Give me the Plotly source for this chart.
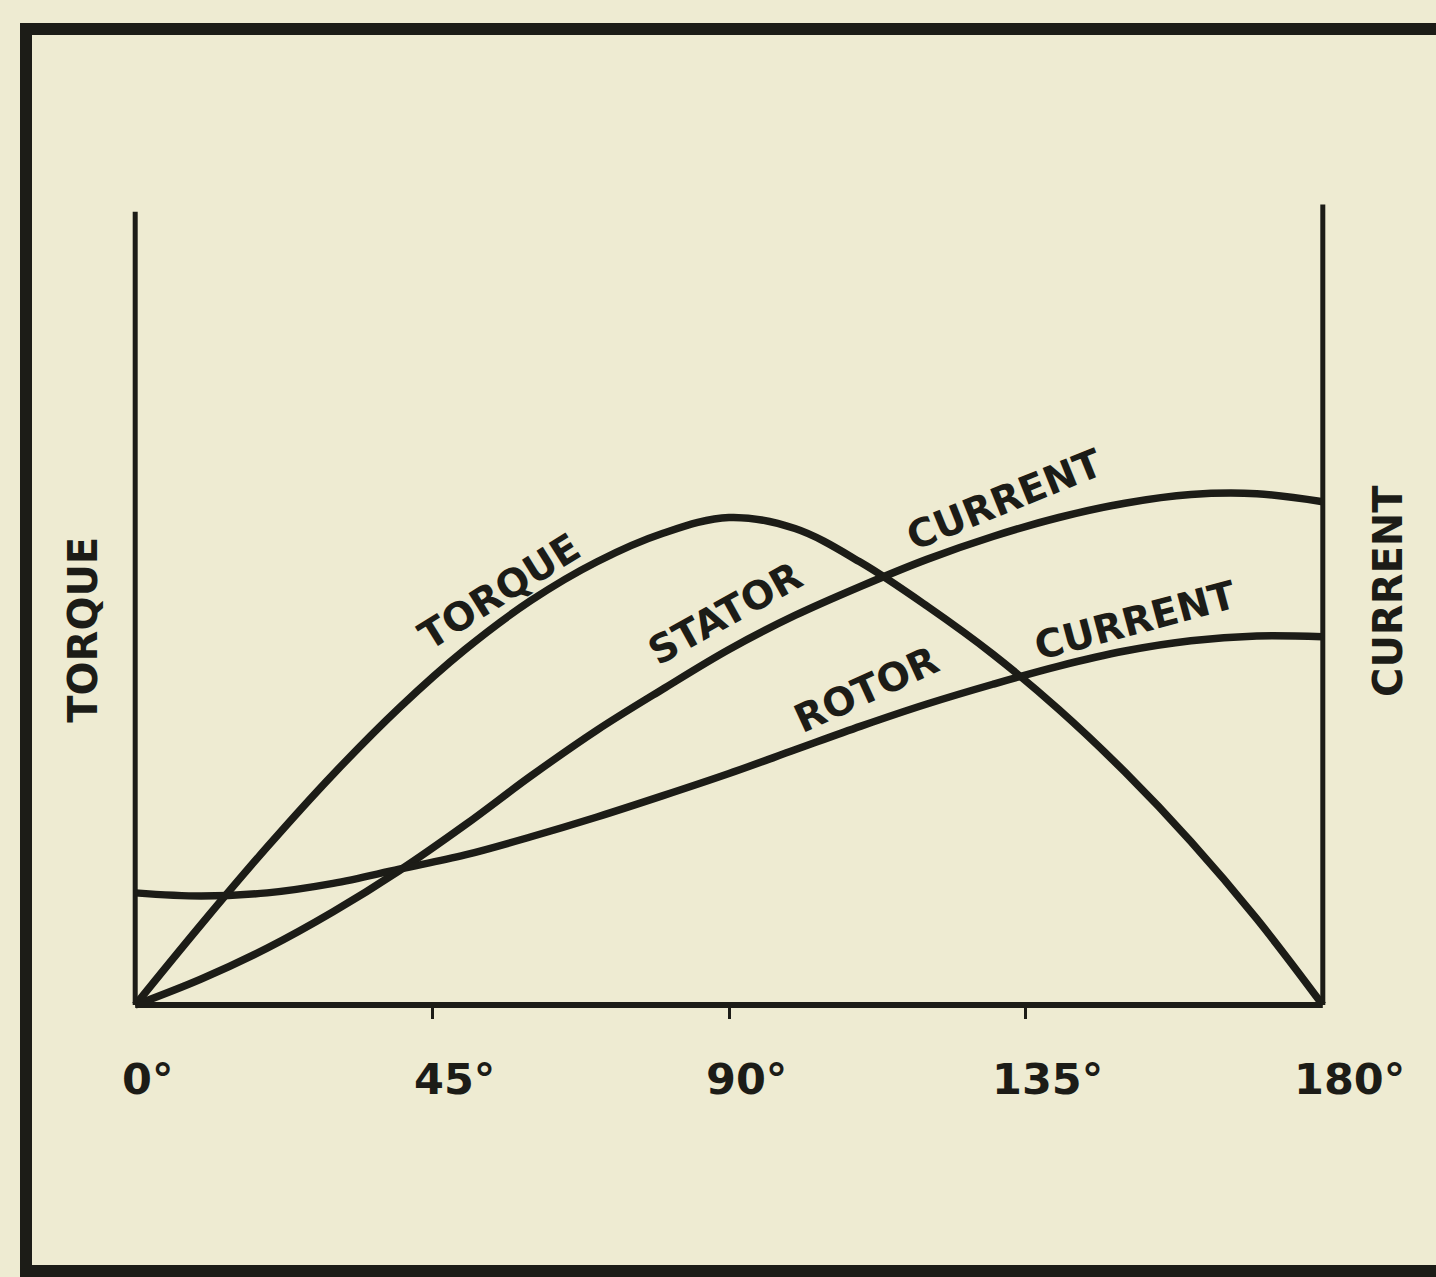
import plotly.graph_objects as go

# ---- data ----
angle = [0, 10, 20, 30, 40, 50, 60, 70, 80, 90, 100, 110, 120, 130, 140, 150, 160, 170, 180]
torque = [0, 10.2, 20.0, 29.2, 37.6, 45.0, 51.2, 56.1, 59.7, 61.7, 60.3, 56.0, 50.5, 44.4, 37.4, 29.5, 20.7, 10.9, 0]
stator = [0, 3.3, 7.2, 11.8, 17.0, 22.8, 29.0, 34.8, 40.0, 45.0, 49.3, 53.0, 56.4, 59.3, 61.7, 63.5, 64.6, 64.7, 63.7]
rotor = [14.2, 13.8, 14.2, 15.4, 17.2, 19.0, 21.3, 23.8, 26.5, 29.3, 32.3, 35.3, 38.1, 40.6, 42.9, 44.8, 46.1, 46.7, 46.6]

tick_vals = [0, 45, 90, 135, 180]
tick_text = ["0°", "45°", "90°", "135°", "180°"]
minor_ticks = [45, 90, 135]

INK = "#1c1c17"
BG = "#eeebd2"
FONT = "DejaVu Sans"

# layout geometry (pixels)
L, R, T, B = 122, 100, 199, 264
W = 1436 - L - R
H = 1277 - T - B


def px(xpix):
    return (xpix - L) / W


def py(ypix):
    return (1277 - B - ypix) / H


fig = go.Figure()

for ys in (torque, stator, rotor):
    fig.add_trace(go.Scatter(x=angle, y=ys, mode="lines",
                             line=dict(color=INK, width=7.5, shape="spline", smoothing=1.0),
                             hoverinfo="skip", showlegend=False))

# axis frame lines (baseline and two verticals)
fig.add_trace(go.Scatter(x=[0, 180], y=[0, 0], mode="lines",
                         line=dict(color=INK, width=6), hoverinfo="skip", showlegend=False))
fig.add_trace(go.Scatter(x=[0, 0], y=[0, 100.4], mode="lines",
                         line=dict(color=INK, width=5), hoverinfo="skip", showlegend=False))
fig.add_trace(go.Scatter(x=[180, 180], y=[0, 101.3], mode="lines",
                         line=dict(color=INK, width=5), hoverinfo="skip", showlegend=False))

annotations = []
# tick labels
tick_shift = [12, 22, 17, 22, 27]
for v, t, s in zip(tick_vals, tick_text, tick_shift):
    annotations.append(dict(x=v, xref="x", y=py(1079), yref="paper", text="<b>%s</b>" % t,
                            showarrow=False, xshift=s,
                            font=dict(family=FONT, size=43, color=INK),
                            xanchor="center", yanchor="middle"))

curve_labels = [
    ("TORQUE", 55.2, 52.3, -32, 39),
    ("STATOR", 89.4, 49.5, -29, 39),
    ("CURRENT", 131.8, 64.0, -22, 39),
    ("ROTOR", 110.8, 39.9, -24.5, 39),
    ("CURRENT", 151.6, 48.7, -15, 39),
]
for t, x, y, a, s in curve_labels:
    annotations.append(dict(x=x, y=y, text="<b>%s</b>" % t, showarrow=False, textangle=a,
                            xanchor="center", yanchor="middle",
                            font=dict(family=FONT, size=s, color=INK)))

annotations.append(dict(x=px(83), xref="paper", y=47.5, yref="y", text="<b>TORQUE</b>",
                        showarrow=False, textangle=-90, xanchor="center", yanchor="middle",
                        font=dict(family=FONT, size=40, color=INK)))
annotations.append(dict(x=px(1388), xref="paper", y=52.4, yref="y", text="<b>CURRENT</b>",
                        showarrow=False, textangle=-90, xanchor="center", yanchor="middle",
                        font=dict(family=FONT, size=40, color=INK)))

# outer frame (paper coordinates)
shapes = [dict(type="rect", xref="paper", yref="paper",
               x0=px(26), x1=px(1448), y0=py(1271), y1=py(29),
               line=dict(color=INK, width=12), fillcolor="rgba(0,0,0,0)", layer="below")]

fig.update_layout(
    width=1436, height=1277,
    margin=dict(l=L, r=R, t=T, b=B),
    paper_bgcolor=BG, plot_bgcolor=BG,
    showlegend=False,
    annotations=annotations,
    shapes=shapes,
    xaxis=dict(range=[-2, 182], showgrid=False, zeroline=False, showline=False,
               tickvals=minor_ticks, ticks="outside", ticklen=13, tickwidth=3, tickcolor=INK,
               showticklabels=False, anchor="free", position=1 / 103, fixedrange=True),
    yaxis=dict(range=[-1, 102], showgrid=False, zeroline=False, showline=False,
               showticklabels=False, ticks="", fixedrange=True),
)

fig.write_html("out.html", config={"displayModeBar": False},
               post_script="document.body.style.margin='0';document.body.style.background='%s';" % BG)
